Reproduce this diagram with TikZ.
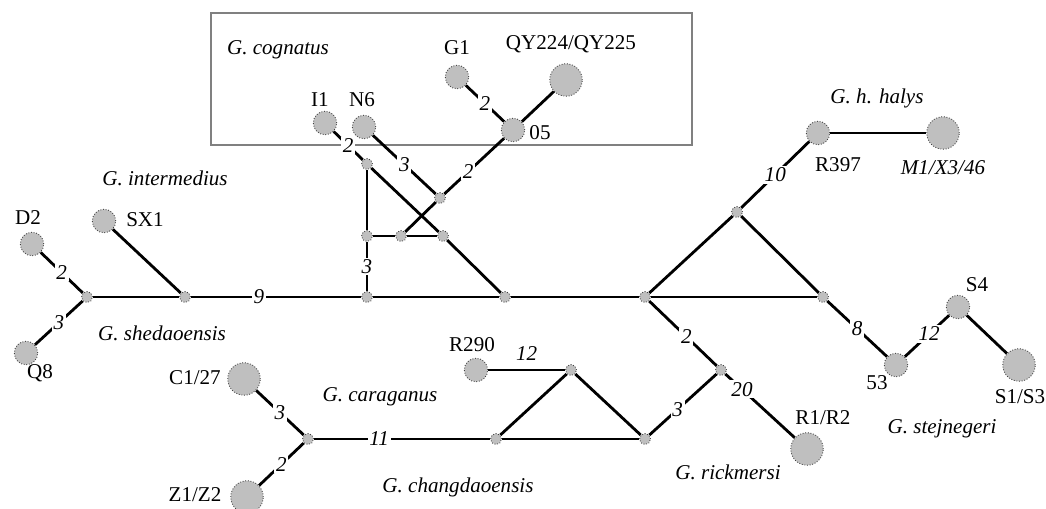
\documentclass[tikz,border=0pt]{standalone}
\usepackage{fontspec}
\setmainfont{Liberation Serif}
\usetikzlibrary{positioning}

\begin{document}
\begin{tikzpicture}[x=0.02cm, y=-0.02cm, line width=1.6pt,
    every node/.append style={font=\fontsize{12}{14}\selectfont},
    hap/.style={circle, draw=gray!50!black, densely dotted, line width=0.5pt,
      fill=gray!50, inner sep=0pt, minimum size=0.47cm},
    big/.style={hap, minimum size=0.65cm},
    mv/.style={hap, minimum size=0.22cm},
    w/.style={fill=white, inner sep=1pt, font=\fontsize{12}{14}\selectfont\itshape},
    sp/.style={font=\fontsize{12}{14}\selectfont\itshape}]
  \useasboundingbox (0,0) rectangle (1046,509);
  \draw[gray, line width=0.6pt] (211,13) rectangle (692,145);

  % haplotypes
  \node (D2) [hap] at (32,244) {};
  \node (Q8) [hap] at (26,353) {};
  \node (SX1) [hap] at (104,221) {};
  \node (I1) [hap] at (325,123) {};
  \node (N6) [hap] at (364,127) {};
  \node (G1) [hap] at (457,77) {};
  \node (h05) [hap] at (513,130) {};
  \node (QY) [big] at (566,80) {};
  \node (R397) [hap] at (818,133) {};
  \node (M1) [big] at (943,133) {};
  \node (S4) [hap] at (958,307) {};
  \node (h53) [hap] at (896,365) {};
  \node (S1) [big] at (1019,365) {};
  \node (R1) [big] at (807,449) {};
  \node (R290) [hap] at (476,370) {};
  \node (C127) [big] at (244,379) {};
  \node (Z1Z2) [big] at (247,497) {};

  % median vectors
  \node (m1) [mv] at (87,297) {};
  \node (m2) [mv] at (185,297) {};
  \node (m3) [mv] at (367,297) {};
  \node (m4) [mv] at (505,297) {};
  \node (m5) [mv] at (645,297) {};
  \node (m6) [mv] at (367,236) {};
  \node (m7) [mv] at (401,236) {};
  \node (m8) [mv] at (443,236) {};
  \node (m9) [mv] at (367,164) {};
  \node (m10) [mv] at (440,198) {};
  \node (m11) [mv] at (737,212) {};
  \node (m12) [mv] at (823,297) {};
  \node (m13) [mv] at (721,370) {};
  \node (m14) [mv] at (645,439) {};
  \node (m15) [mv] at (496,439) {};
  \node (m16) [mv] at (571,370) {};
  \node (m17) [mv] at (308,439) {};

  % links
  \draw (D2) -- node[w] {2} (m1);
  \draw (Q8) -- node[w] {3} (m1);
  \draw (m1) -- (m2);
  \draw (SX1) -- (m2);
  \draw (m2) -- node[w, pos=0.4] {9} (m3);
  \draw (m3) -- (m4);
  \draw (m4) -- (m5);
  \draw (m3) -- node[w] {3} (m6);
  \draw (m6) -- (m7);
  \draw (m7) -- (m8);
  \draw (m6) -- (m9);
  \draw (m9) -- (m8);
  \draw (m8) -- (m4);
  \draw (I1) -- node[w] {2} (m9);
  \draw (N6) -- node[w] {3} (m10);
  \draw (m7) -- (m10);
  \draw (m10) -- node[w, pos=0.4] {2} (h05);
  \draw (G1) -- node[w] {2} (h05);
  \draw (QY) -- (h05);
  \draw (m5) -- (m11);
  \draw (m11) -- node[w] {10} (R397);
  \draw (R397) -- (M1);
  \draw (m11) -- (m12);
  \draw (m5) -- (m12);
  \draw (m12) -- node[w] {8} (h53);
  \draw (h53) -- node[w, pos=0.55] {12} (S4);
  \draw (S4) -- (S1);
  \draw (m5) -- node[w, pos=0.55] {2} (m13);
  \draw (m13) -- node[w, pos=0.24] {20} (R1);
  \draw (m14) -- node[w, pos=0.42] {3} (m13);
  \draw (m15) -- (m14);
  \draw (m15) -- (m16);
  \draw (m16) -- (m14);
  \draw (R290) -- node[sp, above=1pt] {12} (m16);
  \draw (m17) -- node[w, pos=0.37] {11} (m15);
  \draw (C127) -- node[w] {3} (m17);
  \draw (Z1Z2) -- node[w] {2} (m17);

  % haplotype names
  \node (tD2) at (28,218) {D2};
  \node (tQ8) at (40,373) {Q8};
  \node (tSX1) at (145,220) {SX1};
  \node (tI1) at (320,100) {I1};
  \node (tN6) at (362,100) {N6};
  \node (tG1) at (457,48) {G1};
  \node (tQY) at (571,44) {QY224/QY225};
  \node (t05) at (540,133) {05};
  \node (tR397) at (838,165) {R397};
  \node (tM1) [sp] at (943,168) {M1/X3/46};
  \node (tS4) at (977,285) {S4};
  \node (t53) at (877,383) {53};
  \node (tS1) at (1020,397) {S1/S3};
  \node (tR1) at (823,418) {R1/R2};
  \node (tR290) at (472,345) {R290};
  \node (tC127) at (195,378) {C1/27};
  \node (tZ1Z2) at (195,495) {Z1/Z2};

  % species
  \node (cognatus) [sp] at (278,50) {G. cognatus};
  \node (intermedius) [sp] at (165,178) {G. intermedius};
  \node (shedaoensis) [sp] at (162,333) {G. shedaoensis};
  \node (caraganus) [sp] at (380,397) {G. caraganus};
  \node (changdaoensis) [sp] at (458,487) {G. changdaoensis};
  \node (rickmersi) [sp] at (728,472) {G. rickmersi};
  \node (stejnegeri) [sp] at (942,429) {G. stejnegeri};
  \node (halys) [sp] at (877,98) {G. h. halys};
\end{tikzpicture}
\end{document}
